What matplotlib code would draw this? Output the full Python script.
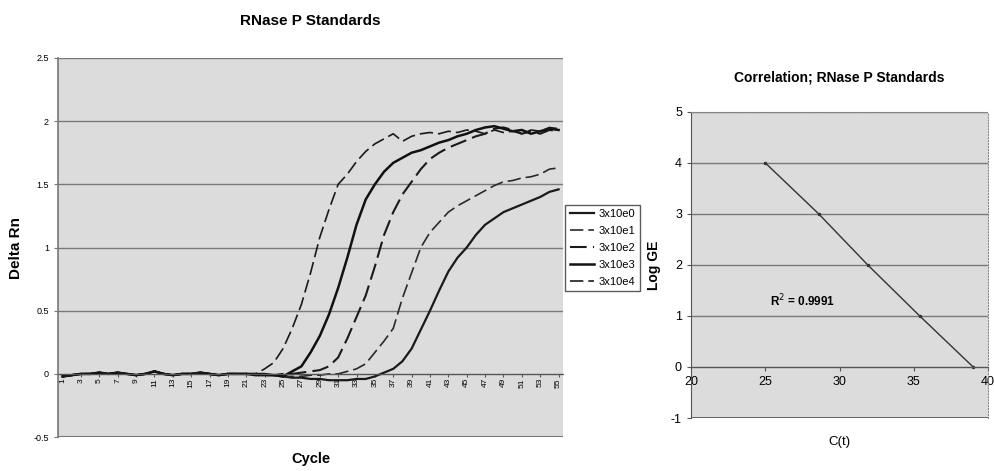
"""RNase P standards: amplification curves + Ct correlation, two panels."""
import matplotlib
matplotlib.use("Agg")
import matplotlib.pyplot as plt
import numpy as np

plt.rcParams["font.family"] = ["Liberation Sans", "DejaVu Sans"]
plt.rcParams["axes.unicode_minus"] = False

PANEL_BG = "#dcdcdc"
GRID = "#7a7a7a"

# --- amplification data (cycle 1..55) ---
cycles = np.arange(1, 56)
base = [-0.02, -0.01, 0.0, 0.0, 0.01, 0.0, 0.01, 0.0, -0.01, 0.0,
        0.02, 0.0, -0.01, 0.0, 0.0, 0.01, 0.0, -0.01, 0.0, 0.0, 0.0]
rn_3e4 = base + [0.0, 0.04, 0.09, 0.2, 0.36, 0.55, 0.8, 1.08, 1.3, 1.5,
                 1.58, 1.68, 1.76, 1.82, 1.86, 1.90, 1.84, 1.88, 1.90, 1.91,
                 1.90, 1.92, 1.91, 1.93, 1.92, 1.90, 1.93, 1.91, 1.92, 1.90,
                 1.93, 1.92, 1.95, 1.94]
rn_3e3 = base + [-0.01, -0.01, -0.01, -0.02, 0.02, 0.06, 0.17, 0.3, 0.47, 0.68,
                 0.92, 1.18, 1.38, 1.5, 1.6, 1.67, 1.71, 1.75, 1.77, 1.80,
                 1.83, 1.85, 1.88, 1.9, 1.93, 1.95, 1.96, 1.94, 1.92, 1.93,
                 1.90, 1.92, 1.94, 1.93]
rn_3e2 = base + [0.0, -0.01, -0.01, 0.0, 0.0, 0.01, 0.02, 0.03, 0.06, 0.13,
                 0.28, 0.45, 0.62, 0.85, 1.1, 1.28, 1.42, 1.52, 1.62, 1.7,
                 1.75, 1.79, 1.82, 1.85, 1.88, 1.90, 1.94, 1.95, 1.93, 1.90,
                 1.92, 1.90, 1.93, 1.92]
rn_3e1 = base + [0.0, -0.01, -0.01, -0.02, -0.02, -0.02, -0.01, -0.01, 0.0, 0.0,
                 0.02, 0.04, 0.08, 0.17, 0.26, 0.36, 0.6, 0.8, 1.0, 1.12,
                 1.2, 1.28, 1.33, 1.37, 1.41, 1.45, 1.49, 1.52, 1.53, 1.55,
                 1.56, 1.58, 1.62, 1.63]
rn_3e0 = base + [0.0, 0.0, -0.01, -0.02, -0.03, -0.03, -0.04, -0.04, -0.05, -0.05,
                 -0.05, -0.04, -0.04, -0.02, 0.01, 0.04, 0.1, 0.2, 0.35, 0.5,
                 0.66, 0.81, 0.92, 1.0, 1.1, 1.18, 1.23, 1.28, 1.31, 1.34,
                 1.37, 1.40, 1.44, 1.46]

labels = ["3x10e0", "3x10e1", "3x10e2", "3x10e3", "3x10e4"]
series = [rn_3e0, rn_3e1, rn_3e2, rn_3e3, rn_3e4]
styles = [
    dict(color="#1a1a1a", lw=1.6, ls="-"),
    dict(color="#2a2a2a", lw=1.2, ls=(0, (8, 3))),
    dict(color="#1a1a1a", lw=1.5, ls=(0, (8, 3))),
    dict(color="#111111", lw=1.8, ls="-"),
    dict(color="#1a1a1a", lw=1.2, ls=(0, (8, 3))),
]

# --- correlation data ---
ct = [25.0, 28.6, 31.9, 35.4, 39.0]
log_ge = [4, 3, 2, 1, 0]
r2_text = "R$^2$ = 0.9991"

fig = plt.figure(figsize=(9.95, 4.71), dpi=100)

# ---------------- left panel ----------------
ax = fig.add_axes([0.0583, 0.072, 0.5077, 0.805])
ax.set_facecolor(PANEL_BG)
for y, st, lab in zip(series, styles, labels):
    ax.plot(cycles, y, label=lab, **st)
ax.set_xlim(0.5, 55.5)
ax.set_ylim(-0.5, 2.5)
ax.set_yticks(np.arange(-0.5, 2.51, 0.5))
ax.set_yticklabels(["-0.5", "0", "0.5", "1", "1.5", "2", "2.5"])
ax.yaxis.grid(True, color=GRID, lw=1)
ax.set_axisbelow(True)
ax.set_xticks(cycles[::2])
ax.set_xticklabels([str(c) for c in cycles[::2]])
ax.spines["bottom"].set_position(("data", 0))
ax.spines["bottom"].set_color("#555555")
ax.spines["left"].set_color("#777777")
ax.spines["left"].set_linewidth(1.2)
ax.spines["top"].set_visible(False)
ax.spines["right"].set_visible(False)
ax.axhline(-0.5, color="#777777", lw=1.5)
ax.tick_params(axis="x", labelsize=6, length=2, pad=1, color="#555555",
               labelrotation=90)
ax.tick_params(axis="y", labelsize=6.5, length=3, color="#777777")
ax.set_title("RNase P Standards", fontsize=11, fontweight="bold", pad=24)
ax.set_ylabel("Delta Rn", fontsize=11, fontweight="bold")
ax.yaxis.set_label_coords(-0.07, 0.5)
ax.text(0.5, -0.04, "Cycle", transform=ax.transAxes, ha="center", va="top",
        fontsize=10.5, fontweight="bold")

fig.legend(loc="upper left", bbox_to_anchor=(0.568, 0.565), fontsize=8,
           frameon=True, fancybox=False, edgecolor="#333333", handlelength=2.2,
           handletextpad=0.4, borderpad=0.4, labelspacing=0.62,
           borderaxespad=0)

# ---------------- right panel ----------------
ax2 = fig.add_axes([0.6945, 0.1125, 0.2985, 0.65])
ax2.set_facecolor(PANEL_BG)
ax2.plot(ct, log_ge, color="#333333", lw=1, marker="o", ms=1.5)
ax2.set_xlim(20, 40)
ax2.set_ylim(-1, 5)
ax2.set_xticks([20, 25, 30, 35, 40])
ax2.set_yticks(range(-1, 6))
ax2.yaxis.grid(True, color=GRID, lw=1)
ax2.set_axisbelow(True)
ax2.spines["bottom"].set_position(("data", 0))
ax2.spines["bottom"].set_color("#555555")
ax2.spines["left"].set_color("#555555")
for s in ("top", "right"):
    ax2.spines[s].set_linestyle(":")
    ax2.spines[s].set_color("#888888")
ax2.axhline(-1, color="#555555", lw=1.2)
ax2.tick_params(labelsize=9, length=3, color="#555555")
ax2.set_title("Correlation; RNase P Standards", fontsize=10, fontweight="bold",
              pad=22)
ax2.set_ylabel("Log GE", fontsize=10, fontweight="bold")
ax2.yaxis.set_label_coords(-0.10, 0.5)
ax2.text(0.5, -0.06, "C(t)", transform=ax2.transAxes, ha="center", va="top",
         fontsize=9.5)
ax2.text(25.3, 1.3, r2_text, fontsize=8.5, fontweight="bold", va="center")

fig.savefig("out.png", dpi=100, facecolor="white")
